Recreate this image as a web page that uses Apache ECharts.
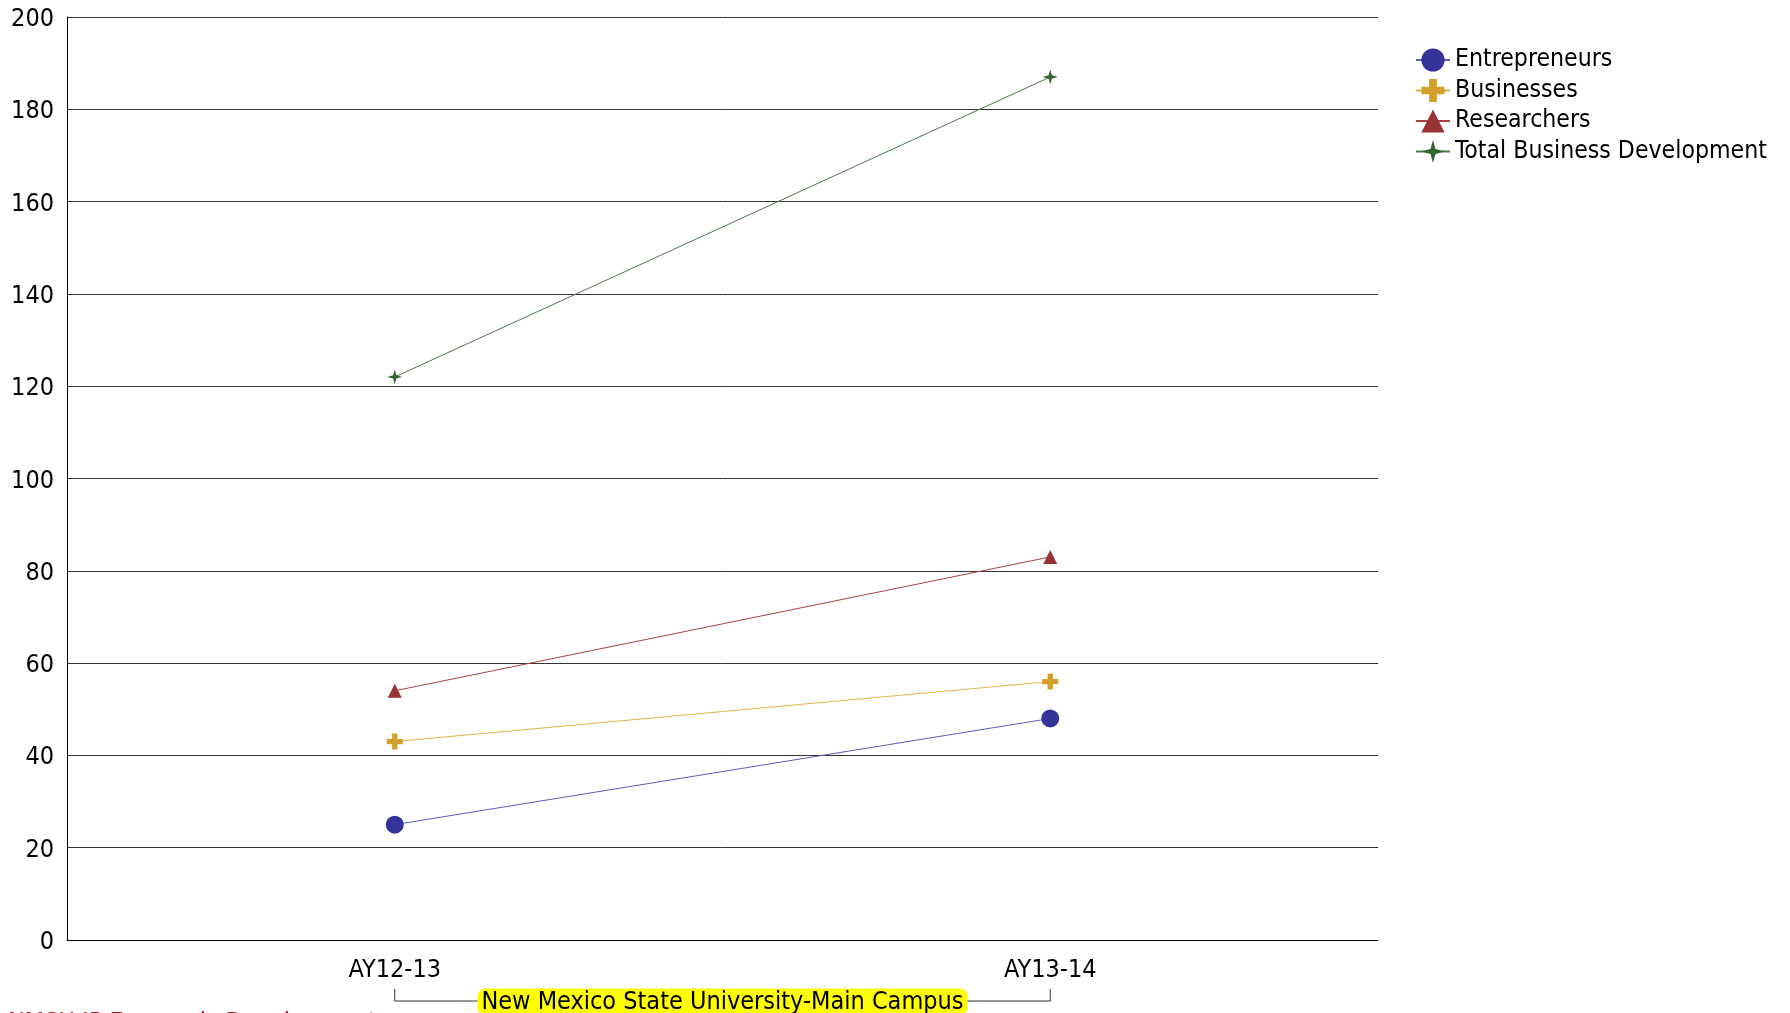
<!DOCTYPE html>
<html><head><meta charset="utf-8">
<script src="https://cdn.jsdelivr.net/npm/echarts@6/dist/echarts.min.js"></script>
<style>html,body{margin:0;padding:0;background:#fff}#c{width:1790px;height:1013px}</style>
</head><body><div id="c"></div>
<script>
const categories = ['AY12-13', 'AY13-14'];
const groupLabel = 'New Mexico State University-Main Campus';
const footnote = 'NMSU IP Economic Development';
const seriesNames = ['Entrepreneurs', 'Businesses', 'Researchers', 'Total Business Development'];
const entrepreneurs = [25, 48];
const businesses = [43, 56];
const researchers = [54, 83];
const totalDev = [122, 187];
const yTicks = [0, 20, 40, 60, 80, 100, 120, 140, 160, 180, 200];

const FONT = 'DejaVu Sans Condensed';
const FS = 25;
const plusPath = 'path://M-1,-3 L1,-3 L1,-1 L3,-1 L3,1 L1,1 L1,3 L-1,3 L-1,1 L-3,1 L-3,-1 L-1,-1 Z';
const starPath = 'path://M0,-10 L2.2,-2.2 L10,0 L2.2,2.2 L0,10 L-2.2,2.2 L-10,0 L-2.2,-2.2 Z';

function mk(name, data, color, lineColor, symbol, size) {
  return {
    name, type: 'line', data, symbol, symbolSize: size,
    itemStyle: { color },
    lineStyle: { color: lineColor, width: 1 },
    emphasis: { disabled: true },
    animation: false
  };
}

const chart = echarts.init(document.getElementById('c'));
chart.setOption({
  animation: false,
  grid: { left: 67, right: 412, top: 17, bottom: 73 },
  legend: {
    orient: 'vertical', left: 1410, top: 42,
    itemWidth: 34, itemHeight: 29, itemGap: 4.5,
    textStyle: { fontFamily: FONT, fontSize: 24.6, color: '#000', lineHeight: 26 },
    data: seriesNames
  },
  xAxis: {
    type: 'category', data: categories, boundaryGap: true,
    axisLine: { lineStyle: { color: '#000', width: 1 } },
    axisTick: { show: false },
    axisLabel: { fontFamily: FONT, fontSize: FS, color: '#000', margin: 18 }
  },
  yAxis: {
    type: 'value', min: yTicks[0], max: yTicks[yTicks.length - 1], interval: 20,
    axisLine: { show: true, lineStyle: { color: '#000', width: 1 } },
    axisTick: { show: false },
    splitLine: { lineStyle: { color: '#333', width: 1 } },
    axisLabel: {
      margin: 13, formatter: '{a|{value}}',
      rich: { a: { fontFamily: FONT, fontSize: FS, color: '#000', padding: [5, 0, 0, 0] } }
    }
  },
  series: [
    mk(seriesNames[0], entrepreneurs, '#333399', '#5a5ac0', 'circle', 18),
    mk(seriesNames[1], businesses, '#d4a02c', '#e0b048', plusPath, 16),
    mk(seriesNames[2], researchers, '#993333', '#a84040', 'triangle', 14),
    mk(seriesNames[3], totalDev, '#336633', '#4a7a48', starPath, 15)
  ]
});

const x1 = chart.convertToPixel({ xAxisIndex: 0 }, categories[0]);
const x2 = chart.convertToPixel({ xAxisIndex: 0 }, categories[1]);
const yb = 1001, yt = 989;
chart.setOption({
  graphic: [
    { type: 'polyline', shape: { points: [[x1, yt], [x1, yb], [x2, yb], [x2, yt]] },
      style: { stroke: '#333', lineWidth: 1, fill: null }, z: 1 },
    { type: 'text', x: (x1 + x2) / 2, y: yb + 1, z: 2,
      style: { text: groupLabel, font: FS + 'px "DejaVu Sans Condensed"', fill: '#000',
        align: 'center', verticalAlign: 'middle', backgroundColor: '#ffff00',
        padding: [2, 4, 0, 4], borderRadius: 8 } },
    { type: 'text', x: 8, y: 1011,
      style: { text: footnote, font: FS + 'px "DejaVu Sans Condensed"', fill: '#b01818',
        align: 'left', verticalAlign: 'top' } }
  ]
});
</script></body></html>
